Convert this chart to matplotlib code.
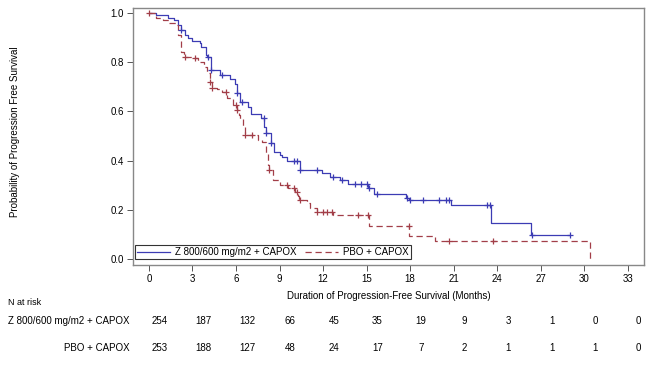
import matplotlib.pyplot as plt
import matplotlib.transforms as mtransforms

plt.rcParams['font.family'] = ['Liberation Sans', 'DejaVu Sans']

# Kaplan-Meier step points (month, survival)
z_time = [0.0, 0.5, 1.3, 1.7, 2.0, 2.2, 2.5, 2.7, 3.0, 3.5, 3.6, 3.9, 4.0, 4.3, 4.9,
          5.6, 5.9, 6.1, 6.3, 6.8, 7.0, 7.7, 7.95, 8.1, 8.4, 8.6, 9.0, 9.2, 9.5,
          10.4, 11.9, 12.5, 13.2, 13.7, 15.1, 15.5, 17.7, 17.9, 20.8, 23.6, 26.3, 29.0]
z_surv = [1.0, 0.99, 0.98, 0.97, 0.95, 0.93, 0.91, 0.90, 0.886, 0.878, 0.86, 0.83, 0.82,
          0.77, 0.75, 0.73, 0.71, 0.675, 0.64, 0.62, 0.59, 0.573, 0.537, 0.512, 0.472,
          0.435, 0.423, 0.415, 0.40, 0.362, 0.35, 0.333, 0.32, 0.305, 0.287, 0.265,
          0.247, 0.24, 0.22, 0.145, 0.098, 0.098]
z_cens = [2.2, 4.05, 4.3, 5.0, 6.1, 6.4, 7.9, 8.1, 8.4, 10.0, 10.2, 10.4, 11.6, 12.7,
          13.3, 14.2, 14.6, 15.0, 15.2, 15.7, 17.8, 18.0, 18.9, 20.0, 20.5, 20.7,
          23.3, 23.5, 26.4, 29.0]

p_time = [0.0, 0.5, 1.0, 1.4, 1.9, 2.0, 2.2, 2.4, 3.0, 3.4, 3.8, 4.0, 4.2, 4.35, 4.7,
          5.0, 5.4, 5.8, 6.1, 6.2, 6.3, 6.5, 6.6, 7.5, 7.8, 8.1, 8.2, 8.3, 8.55, 9.0,
          9.6, 10.1, 10.25, 10.35, 10.9, 11.1, 11.6, 12.7, 15.2, 17.95, 19.7, 30.4]
p_surv = [1.0, 0.98, 0.97, 0.96, 0.95, 0.91, 0.84, 0.82, 0.817, 0.80, 0.78, 0.756, 0.72,
          0.695, 0.69, 0.68, 0.655, 0.626, 0.605, 0.585, 0.57, 0.537, 0.504, 0.484,
          0.476, 0.43, 0.382, 0.362, 0.32, 0.30, 0.289, 0.272, 0.256, 0.24, 0.228,
          0.207, 0.19, 0.18, 0.135, 0.093, 0.075, 0.0]
p_cens = [0.0, 2.5, 3.2, 4.2, 4.35, 5.3, 6.0, 6.1, 6.6, 7.1, 8.3, 9.5, 10.0, 10.2, 10.4,
          11.6, 12.0, 12.3, 12.6, 14.4, 15.1, 17.9, 20.7, 23.7]

ticks = list(range(0, 34, 3))
z_risk = [254, 187, 132, 66, 45, 35, 19, 9, 3, 1, 0, 0]
p_risk = [253, 188, 127, 48, 24, 17, 7, 2, 1, 1, 1, 0]
z_name = 'Z 800/600 mg/m2 + CAPOX'
p_name = 'PBO + CAPOX'

blue = '#3c3cb4'
red = '#a23e48'


def surv_at(times, surv, t):
    s = surv[0]
    for ti, si in zip(times, surv):
        if ti <= t:
            s = si
    return s


fig = plt.figure(figsize=(6.53, 3.67), dpi=100)
ax = fig.add_axes([0.2037, 0.278, 0.782, 0.700])

ax.step(z_time, z_surv, where='post', color=blue, lw=0.9, label=z_name)
ax.step(p_time, p_surv, where='post', color=red, lw=0.9, ls=(0, (5, 3)), label=p_name)
ax.plot(z_cens, [surv_at(z_time, z_surv, t) for t in z_cens], '+', color=blue, ms=5, mew=0.9)
ax.plot(p_cens, [surv_at(p_time, p_surv, t) for t in p_cens], '+', color=red, ms=5, mew=0.9)

ax.set_xlim(-1.1, 34.1)
ax.set_ylim(-0.024, 1.02)
ax.set_xticks(ticks)
ax.set_yticks([0, 0.2, 0.4, 0.6, 0.8, 1.0])
ax.set_yticklabels(['0.0', '0.2', '0.4', '0.6', '0.8', '1.0'])
ax.tick_params(labelsize=7, length=4, width=0.7, color='#555555', pad=2.5)
for sp in ax.spines.values():
    sp.set_color('#888888')
    sp.set_linewidth(1.0)

ax.set_xlabel('Duration of Progression-Free Survival (Months)', fontsize=7, labelpad=5)
fig.text(0.023, 0.64, 'Probability of Progression Free Survival', rotation=90,
         fontsize=7, ha='center', va='center')

leg = ax.legend(loc='lower left', ncol=2, fontsize=7, frameon=True, fancybox=False,
                borderpad=0.2, handlelength=3.4, columnspacing=0.9, handletextpad=0.5,
                bbox_to_anchor=(0.0, 0.015), borderaxespad=0.2)
leg.get_frame().set_edgecolor('black')
leg.get_frame().set_linewidth(0.8)

# number at risk table
trans = mtransforms.blended_transform_factory(ax.transData, fig.transFigure)
fig.text(0.012, 0.175, 'N at risk', fontsize=6.5, va='center')
fig.text(0.199, 0.125, z_name, fontsize=7, ha='right', va='center')
fig.text(0.199, 0.052, p_name, fontsize=7, ha='right', va='center')
for t, a, b in zip(ticks, z_risk, p_risk):
    ax.text(t + 0.75, 0.125, str(a), transform=trans, fontsize=7, ha='center', va='center')
    ax.text(t + 0.75, 0.052, str(b), transform=trans, fontsize=7, ha='center', va='center')

fig.savefig('out.png', dpi=100)
